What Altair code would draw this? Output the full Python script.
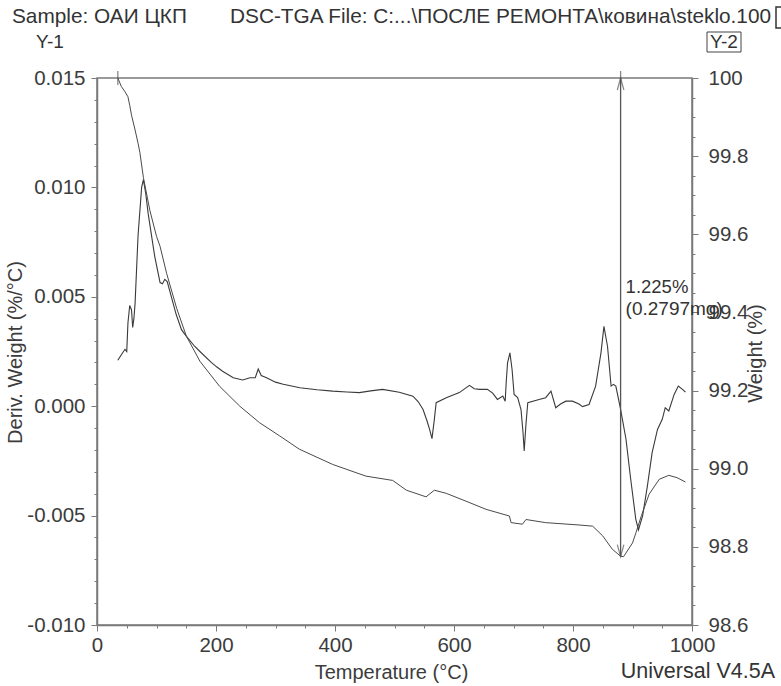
import altair as alt
import pandas as pd

# ---- TGA weight curve (right axis, %) ----
temp_w = [35, 41, 47, 52, 55, 58, 64, 69, 72, 78, 89, 100, 106, 117, 134, 150,
          173, 206, 240, 273, 307, 340, 396, 452, 497, 520, 553, 567, 587, 620,
          654, 693, 696, 715, 721, 754, 810, 833, 850, 866, 880, 885, 900, 906,
          915, 928, 945, 961, 975, 989]
weight = [100.0, 99.978, 99.965, 99.952, 99.93, 99.905, 99.867, 99.833, 99.81,
          99.745, 99.66, 99.595, 99.569, 99.50, 99.41, 99.34, 99.275, 99.211,
          99.16, 99.118, 99.084, 99.05, 99.011, 98.981, 98.970, 98.945, 98.928,
          98.945, 98.937, 98.917, 98.896, 98.879, 98.862, 98.858, 98.870, 98.862,
          98.856, 98.853, 98.828, 98.794, 98.776, 98.775, 98.81, 98.837, 98.88,
          98.935, 98.973, 98.983, 98.977, 98.966]

# ---- derivative weight curve (left axis, %/°C) ----
temp_d = [35, 42, 47, 50, 52, 55, 58, 60, 62, 64, 69, 75, 78, 82, 86, 97, 106,
          110, 114, 118, 125, 133, 142, 150, 164, 173, 192, 201, 211, 229, 245,
          257, 266, 271, 276, 285, 300, 313, 341, 370, 396, 420, 441, 460, 480,
          508, 531, 540, 548, 555, 559, 563, 567, 570, 587, 609, 626, 634, 643,
          656, 665, 673, 682, 686, 688, 690, 694, 697.6, 701, 707, 712.6, 716,
          718, 721, 724, 743, 754, 763, 771, 779, 788, 799, 810, 816, 827, 838,
          847, 852, 858, 864, 868, 872, 880, 889, 897, 905.5, 910, 917, 925, 933,
          942, 950, 955, 961, 970, 977, 984, 989]
deriv = [0.0021, 0.0024, 0.0026, 0.0025, 0.0038, 0.0046, 0.0044, 0.0036, 0.0040,
         0.0047, 0.0078, 0.0100, 0.01035, 0.0097, 0.0088, 0.00685, 0.00565,
         0.0056, 0.0058, 0.0057, 0.0050, 0.0042, 0.0035, 0.0032, 0.00274, 0.0025,
         0.0020, 0.0018, 0.0016, 0.0013, 0.0012, 0.0013, 0.0013, 0.0017, 0.0014,
         0.0013, 0.0011, 0.0010, 0.00084, 0.00075, 0.00069, 0.00065, 0.00062,
         0.0007, 0.00077, 0.00064, 0.00046, 0.0002, -0.00015, -0.0007, -0.00106,
         -0.00148, -0.0006, 0.00016, 0.00039, 0.00062, 0.00095, 0.0008, 0.00077,
         0.00077, 0.0006, 0.00031, 0.00046, 0.00023, 0.0012, 0.00198, 0.00244,
         0.00168, 0.00054, 0.00039, -0.00015, -0.0012, -0.00205, -0.0008,
         0.00016, 0.00031, 0.00039, 0.00069, -0.00007, 0.0001, 0.00023, 0.00023,
         0.0001, -0.00002, 0.00008, 0.00092, 0.00244, 0.00365, 0.00274, 0.00092,
         0.0010, 0.00092, -0.00015, -0.0015, -0.00334, -0.00516, -0.00565,
         -0.00501, -0.00365, -0.00212, -0.00106, -0.0006, -0.00007, -0.00022,
         0.00054, 0.00092, 0.00077, 0.00064]

# ---- weight-loss step annotation ----
step_start_temp = 35
step_temp = 880
step_top = 100.0
step_bottom = 98.775
step_mass_mg = 0.2797

# ---- axis tick positions ----
x_ticks = list(range(0, 1001, 50))
left_ticks = [round(-0.010 + i * 0.001, 3) for i in range(26)]
right_ticks = [round(98.6 + i * 0.05, 2) for i in range(29)]

FONT = "Liberation Sans"
INK = "#3a3a3a"
AXIS_GREY = "#7a7a7a"
TICK_FS = 20.5
TITLE_FS = 20
HEADER_FS = 20.8

w_df = pd.DataFrame({"T": temp_w, "w": weight})
d_df = pd.DataFrame({"T": temp_d, "d": deriv})
step_df = pd.DataFrame({
    "T": [step_temp], "w": [step_top], "w2": [step_bottom],
    "mid": [(step_top + step_bottom) / 2],
    "pct": [f"{step_top - step_bottom:.3f}%"],
    "mass": [f"({step_mass_mg:.4f}mg)"],
})
start_df = pd.DataFrame({"T": [step_start_temp, step_temp], "w": [step_top, step_top]})

x_scale = alt.Scale(domain=[0, 1000], nice=False, zero=False)
left_scale = alt.Scale(domain=[-0.010, 0.015], nice=False, zero=False)
right_scale = alt.Scale(domain=[98.6, 100], nice=False, zero=False)

x_axis = alt.Axis(
    values=x_ticks, format="d",
    labelExpr="datum.value % 200 == 0 ? datum.label : ''",
    tickSize={"condition": {"test": "datum.value % 200 == 0", "value": 6}, "value": 3},
    title="Temperature (°C)", titleX=294, titleY=47, titleBaseline="middle",
    labelPadding=4, labelFlush=False,
)
X = alt.X("T:Q", scale=x_scale, axis=x_axis)

left_axis = alt.Axis(
    values=left_ticks,
    labelExpr="abs(round(datum.value * 1000)) % 5 == 0 ? "
              "replace(format(datum.value, '.3f'), '\u2212', '-') : ''",
    tickSize={"condition": {"test": "abs(round(datum.value * 1000)) % 5 == 0", "value": 6},
              "value": 3},
    title="Deriv. Weight (%/°C)", titleX=-82, titleY=274, titleAngle=270,
    titleAlign="center", titleBaseline="middle",
    labelPadding=6, labelFlush=False,
)

right_axis = alt.Axis(
    values=right_ticks, orient="right",
    labelExpr="abs(round(datum.value * 100)) % 20 == 0 ? "
              "(datum.value == 100 ? '100' : format(datum.value, '.1f')) : ''",
    tickSize={"condition": {"test": "abs(round(datum.value * 100)) % 20 == 0", "value": 6},
              "value": 3},
    title="Weight (%)", titleX=63, titleY=275, titleAngle=270,
    titleAlign="center", titleBaseline="middle",
    labelPadding=10, labelFlush=False,
)

deriv_line = alt.Chart(d_df).mark_line(color=INK, strokeWidth=1.1).encode(
    x=X, y=alt.Y("d:Q", scale=left_scale, axis=left_axis), order="T:Q"
)

RY = dict(scale=right_scale, axis=right_axis)

weight_line = alt.Chart(w_df).mark_line(color="#4a4a4a", strokeWidth=1.0).encode(
    x=X, y=alt.Y("w:Q", **RY), order="T:Q"
)

step_rule = alt.Chart(step_df).mark_rule(color="#555555", strokeWidth=1.3).encode(
    x=X, y=alt.Y("w:Q", **RY), y2="w2:Q"
)

step_marks = alt.Chart(start_df).mark_tick(
    orient="vertical", size=14, thickness=1.3, color="#555555"
).encode(x=X, y=alt.Y("w:Q", **RY))

head_up = alt.Chart(step_df).mark_point(
    shape="M-0.55,1L0,-1L0.55,1", size=144, filled=False,
    color="#555555", strokeWidth=1.2, yOffset=6,
).encode(x=X, y=alt.Y("w:Q", **RY))

head_down = alt.Chart(step_df).mark_point(
    shape="M-0.55,-1L0,1L0.55,-1", size=144, filled=False,
    color="#555555", strokeWidth=1.2, yOffset=-6,
).encode(x=X, y=alt.Y("w2:Q", **RY))

pct_text = alt.Chart(step_df).mark_text(
    align="left", baseline="middle", dx=5, dy=-30, font=FONT, fontSize=18.5, color="#333333"
).encode(x=X, y=alt.Y("mid:Q", **RY), text="pct:N")

mass_text = alt.Chart(step_df).mark_text(
    align="left", baseline="middle", dx=5, dy=-8, font=FONT, fontSize=19, color="#333333"
).encode(x=X, y=alt.Y("mid:Q", **RY), text="mass:N")

weight_layer = alt.layer(weight_line, step_rule, step_marks, head_up, head_down,
                         pct_text, mass_text)

# page furniture: header line, axis tags and software version
hdr = pd.DataFrame({"s": [0]})


def label(text, x, y, size=19, align="left"):
    return alt.Chart(hdr).mark_text(
        text=text, align=align, baseline="middle", font=FONT, fontSize=size, color="#333333"
    ).encode(x=alt.value(x), y=alt.value(y))


sample_txt = label("Sample: ОАИ ЦКП", -85, -61, size=HEADER_FS)
file_txt = label("DSC-TGA File: C:...\\ПОСЛЕ РЕМОНТА\\ковина\\steklo.100", 133, -61,
                 size=HEADER_FS)
y1_txt = label("Y-1", -47, -36, size=19, align="center")
y2_txt = label("Y-2", 627, -36, size=19, align="center")
y2_box = alt.Chart(hdr).mark_rect(fill=None, stroke="#444444", strokeWidth=1).encode(
    x=alt.value(610), x2=alt.value(644), y=alt.value(-46), y2=alt.value(-26)
)
edge_box = alt.Chart(hdr).mark_rect(fill=None, stroke="#333333", strokeWidth=1.5).encode(
    x=alt.value(679), x2=alt.value(695), y=alt.value(-71), y2=alt.value(-50)
)
version_txt = label("Universal V4.5A", 678, 594, size=21.5, align="right")

extras = alt.layer(sample_txt, file_txt, y1_txt, y2_txt, y2_box, edge_box, version_txt)

chart = alt.layer(deriv_line, weight_layer, extras).resolve_scale(
    y="independent"
).properties(
    width=595, height=547,
    padding={"left": 97, "top": 78, "right": 89, "bottom": 61},
    autosize=alt.AutoSizeParams(type="none"),
    background="white",
).configure_view(
    stroke=AXIS_GREY, strokeWidth=1.5
).configure_axis(
    grid=False, domainColor=AXIS_GREY, domainWidth=1.5, tickColor=AXIS_GREY, tickWidth=1,
    labelFont=FONT, labelFontSize=TICK_FS, labelColor="#3c3c3c",
    titleFont=FONT, titleFontSize=TITLE_FS, titleColor="#3c3c3c", titleFontWeight="normal",
)

chart.save("out.html", embed_options={"renderer": "svg", "actions": False})
